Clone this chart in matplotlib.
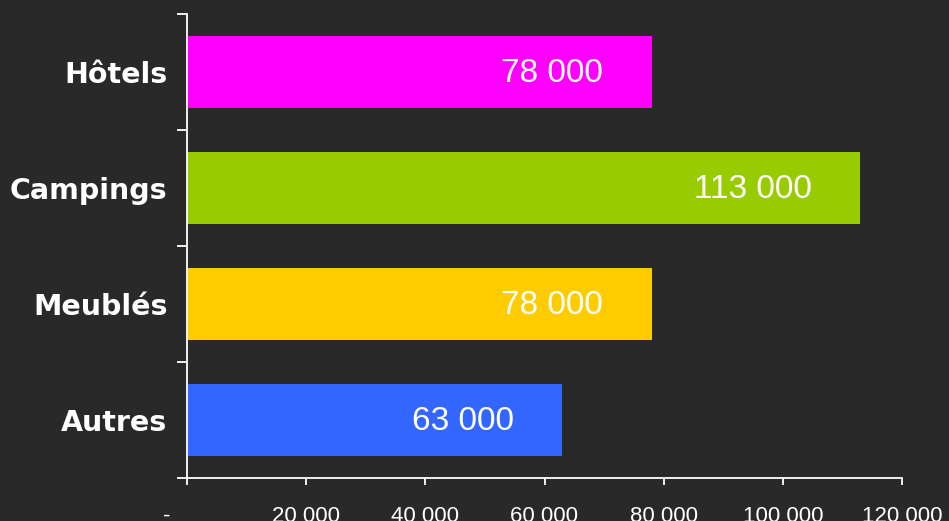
import matplotlib
matplotlib.use('Agg')
import matplotlib.pyplot as plt
import matplotlib.transforms as mtransforms
from matplotlib.ticker import FuncFormatter

# data (bottom to top)
categories = ['Autres', 'Meublés', 'Campings', 'Hôtels']
values = [63000, 78000, 113000, 78000]
colors = ['#3366FF', '#FFCC00', '#99CC00', '#FF00FF']
x_ticks = [0, 20000, 40000, 60000, 80000, 100000, 120000]

bg = '#292929'


def fmt_thousands(v, pos=None):
    if v == 0:
        return '-'
    return f'{v:,.0f}'.replace(',', ' ')


fig = plt.figure(figsize=(9.49, 5.21), dpi=100, facecolor=bg)
ax = fig.add_axes([187 / 949, 43 / 521, 715 / 949, 464 / 521], facecolor=bg)

ypos = list(range(len(categories)))
bars = ax.barh(ypos, values, height=0.62, color=colors, zorder=2)

# value labels inside the bars
for y, v in zip(ypos, values):
    ax.annotate(fmt_thousands(v), xy=(v, y), xytext=(-35, -1), textcoords='offset points',
                ha='right', va='center', color='white', fontsize=24,
                family='Liberation Sans')

ax.set_xlim(0, 120000)
ax.set_ylim(-0.5, len(categories) - 0.5)

# x axis
ax.set_xticks(x_ticks)
ax.xaxis.set_major_formatter(FuncFormatter(fmt_thousands))
ax.tick_params(axis='x', colors='white', length=5, width=1.3, pad=15, labelsize=16)
xlabels = ax.get_xticklabels()
for lab in xlabels:
    lab.set_family('Liberation Sans')
# the "-" for zero sits a little left of its tick
shift = mtransforms.ScaledTranslation(-20 / 100, 0, fig.dpi_scale_trans)
xlabels[0].set_transform(xlabels[0].get_transform() + shift)

# y axis: ticks at boundaries, labels at centres
ax.set_yticks([i - 0.5 for i in range(len(categories) + 1)])
ax.set_yticklabels([])
ax.tick_params(axis='y', which='major', colors='white', length=7, width=1.3)
ax.set_yticks(ypos, minor=True)
ax.set_yticklabels(categories, minor=True)
ax.tick_params(axis='y', which='minor', length=0, pad=14, labelsize=20.5, labelcolor='white')
for lab in ax.get_yticklabels(minor=True):
    lab.set_family('DejaVu Sans')
    lab.set_fontweight('bold')

for s in ['top', 'right']:
    ax.spines[s].set_visible(False)
for s in ['left', 'bottom']:
    ax.spines[s].set_color('white')
    ax.spines[s].set_linewidth(1.3)

fig.savefig('out.png', dpi=100, facecolor=bg)
